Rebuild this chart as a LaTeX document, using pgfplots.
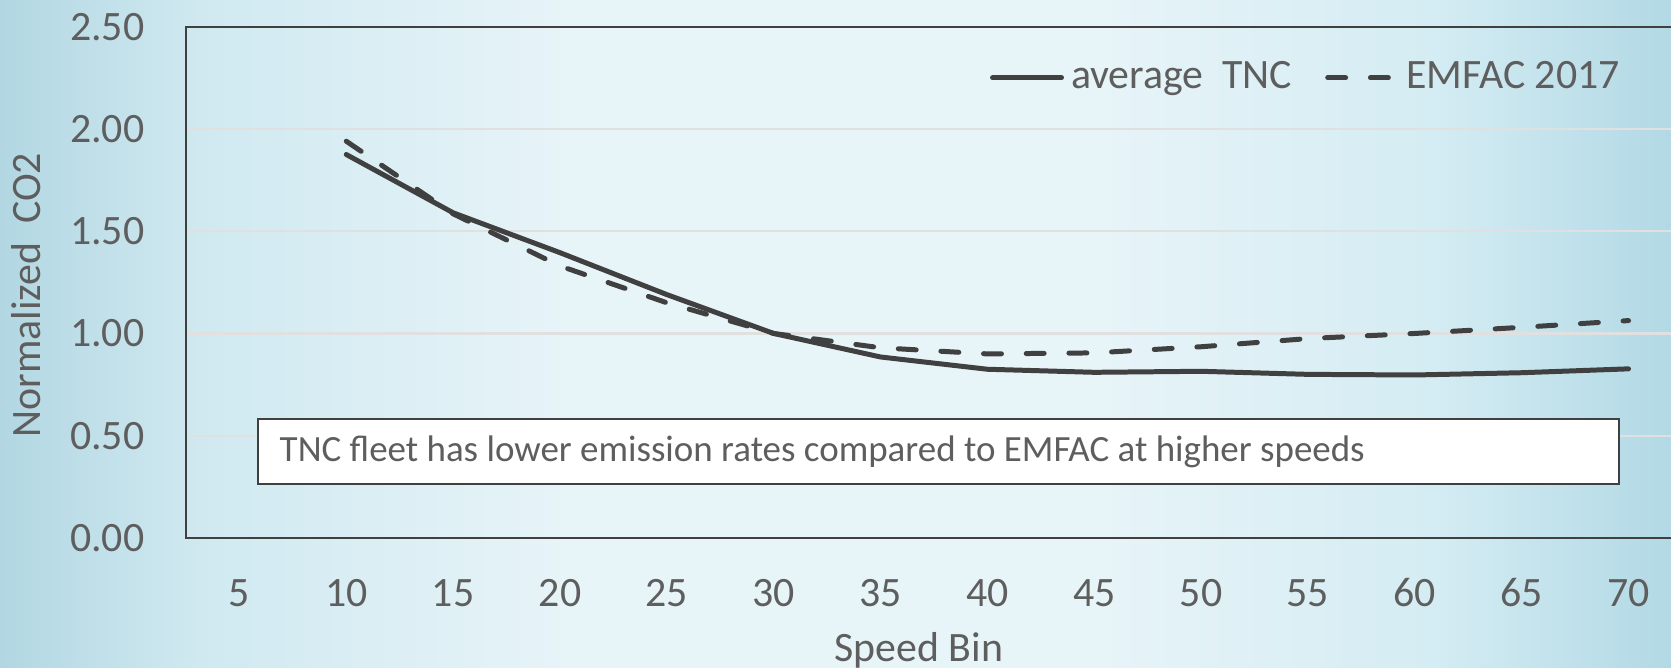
\documentclass[border=0pt]{standalone}
\usepackage{pgfplots}
\pgfplotsset{compat=1.18}
\usepackage{fontspec}
\setmainfont{Carlito}
\definecolor{txt}{RGB}{94,94,94}
\definecolor{ln}{RGB}{64,64,64}
\definecolor{gridc}{RGB}{224,224,224}
\definecolor{bga}{RGB}{178,215,226}
\definecolor{bgb}{RGB}{208,233,241}
\definecolor{bgc}{RGB}{231,244,248}
\definecolor{bgd}{RGB}{212,236,243}
\definecolor{bge}{RGB}{178,217,229}
\pgfdeclarehorizontalshading{bgshade}{100bp}{color(0bp)=(bga); color(25bp)=(bga); color(31bp)=(bgb); color(42bp)=(bgc); color(58bp)=(bgc); color(68bp)=(bgd); color(75bp)=(bge); color(100bp)=(bge)}
\pgfplotstableread{
x y
10 1.875
15 1.59
20 1.395
25 1.19
30 1.00
35 0.885
40 0.825
45 0.81
50 0.815
55 0.80
60 0.797
65 0.808
70 0.827
}\tnc
\pgfplotstableread{
x y
10 1.94
15 1.585
20 1.33
25 1.15
30 1.00
35 0.93
40 0.90
45 0.905
50 0.935
55 0.975
60 1.00
65 1.03
70 1.063
}\emfac
\newcommand{\mf}{\fontsize{11.9}{14}\selectfont}
\begin{document}
\begin{tikzpicture}
\shade[shading=bgshade] (0,0) rectangle (16.71cm,6.68cm);
\begin{axis}[
  at={(1.86cm,1.30cm)}, anchor=south west,
  width=14.96cm, height=5.113cm, scale only axis,
  xmin=2.5, xmax=72.5, ymin=0, ymax=2.5,
  xtick={5,10,...,70}, ytick={0,0.5,...,2.5},
  major tick length=0pt,
  axis line style={draw=ln, line width=0.6pt},
  ymajorgrids, grid style={draw=gridc, line width=0.6pt},
  tick label style={font=\mf, text=txt, inner sep=0pt},
  /pgf/number format/assume math mode=true,
  yticklabel style={/pgf/number format/fixed, /pgf/number format/fixed zerofill, /pgf/number format/precision=2, anchor=east, xshift=-0.41cm},
  xticklabel style={anchor=base, yshift=-0.686cm},
  ylabel={Normalized\ \ CO2},
  ylabel style={at={(rel axis cs:-0.1066,0.475)}, anchor=center, inner sep=0pt, font=\mf, text=txt},
  xlabel={Speed Bin},
  xlabel style={at={(rel axis cs:0.49,-0.242)}, anchor=base, inner sep=0pt, font=\mf, text=txt},
  legend style={at={(rel axis cs:0.537,0.90)}, anchor=west, draw=none, fill=none, inner sep=0pt, font=\mf, text=txt,
    /tikz/every even column/.append style={column sep=0.26cm}},
  legend columns=2,
  legend image code/.code={\draw[#1] (0cm,0cm) -- (0.69cm,0cm);},
  clip=false,
]
\addplot[ln, line width=1.42pt, line cap=round, line join=round] table[x=x,y=y]{\tnc};
\addlegendentry{average\ \ TNC}
\addplot[ln, line width=1.42pt, line cap=round, line join=round, dash pattern=on 5.1pt off 7.05pt] table[x=x,y=y]{\emfac};
\addlegendentry{EMFAC 2017}
\draw[draw=ln, line width=0.6pt, fill=white] (rel axis cs:0.0482,0.1056) rectangle (rel axis cs:0.958,0.2327);
\node[anchor=west, inner sep=0pt, font=\fontsize{10.52}{12}\selectfont, text=txt] at (rel axis cs:0.0622,0.169) {TNC fleet has lower emission rates compared to EMFAC at higher speeds};
\end{axis}
\pgfresetboundingbox
\useasboundingbox (0,0) rectangle (16.71cm,6.68cm);
\end{tikzpicture}
\end{document}
